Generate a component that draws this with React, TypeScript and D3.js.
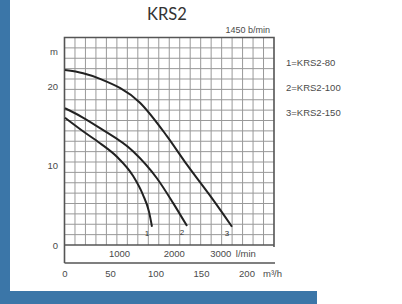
import React from 'react';
import * as d3 from 'd3';

// pump curves, Q in m3/h, H in m
const curve1 = [[0, 16.0], [19.8, 14.3], [38.5, 12.8], [57, 11.1], [74.7, 8.7], [85.7, 6.3], [92.3, 4.2], [95.6, 2.3]];
const curve2 = [[0, 17.2], [18.7, 16.1], [38.5, 14.7], [74.7, 11.8], [101, 8.4], [118.7, 5.3], [134, 2.4]];
const curve3 = [[0, 22.0], [20, 21.6], [38.5, 20.9], [82.4, 17.9], [112, 13.7], [134, 10.1], [162.6, 5.7], [183.5, 2.3]];
const curves = [curve1, curve2, curve3];
const curveIds = ['1', '2', '3'];

const legendLabels = ['1=KRS2-80', '2=KRS2-100', '3=KRS2-150'];
const yTicks = [0, 10, 20];
const qTicks = [0, 50, 100, 150, 200];
const lminTicks = [1000, 2000, 3000];

export default function App() {
    const W = 402, H = 304;
    const left = 64.5, right = 274, top = 37.5, zeroY = 245, bottom = 263;

    const x = d3.scaleLinear().domain([0, 200]).range([65, 247]);
    const y = d3.scaleLinear().domain([0, 20]).range([zeroY, 86]);
    // 1000 l/min = 60 m3/h
    const xl = d3.scaleLinear().domain([0, 1000]).range([x(0), x(60)]);

    const line = d3.line()
        .x((d) => x(d[0]))
        .y((d) => y(d[1]))
        .curve(d3.curveMonotoneX);

    const cols = d3.range(1, 20).map((i) => left + (i * (right - left)) / 20);
    const rows = d3.range(1, 20).map((i) => top + (i * (zeroY - top)) / 20);

    const small = { fontFamily: 'Liberation Sans, Arial, sans-serif', fontSize: 9.5, fill: '#4a4a4a' };

    return (
        <svg width={W} height={H} style={{ position: 'absolute', left: 0, top: 0, background: '#fff' }}>
            <rect x={0} y={0} width={10} height={H} fill="#3b76a8" />
            <rect x={0} y={291} width={317} height={13} fill="#3b76a8" />

            <text x={167} y={20} textAnchor="middle" fontFamily="Lato, sans-serif" fontSize={16.5} fill="#333">KRS2</text>
            <text x={270} y={33} textAnchor="end" {...small} fontSize={9}>1450 b/min</text>

            {/* grid */}
            {cols.map((c, i) => (
                <line key={'c' + i} x1={c} x2={c} y1={top} y2={zeroY} stroke="#999" strokeWidth={1} />
            ))}
            {rows.map((r, i) => (
                <line key={'r' + i} x1={left} x2={right} y1={r} y2={r} stroke="#999" strokeWidth={1} />
            ))}

            {/* frame */}
            <path d={`M${left},${bottom} V${top} H${right} V${zeroY + 2}`} fill="none" stroke="#555" strokeWidth={1.6} />
            <line x1={left} x2={right} y1={zeroY} y2={zeroY} stroke="#555" strokeWidth={1.6} />
            <line x1={left} x2={right + 1} y1={bottom} y2={bottom} stroke="#555" strokeWidth={1.6} />

            {/* y labels */}
            <text x={58} y={55} textAnchor="end" {...small}>m</text>
            {yTicks.map((t) => (
                <text key={t} x={58} y={y(t) + 3.5} textAnchor="end" {...small}>{t}</text>
            ))}

            {/* l/min labels */}
            {lminTicks.map((t) => (
                <text key={t} x={xl(t) - (t === 3000 ? 8 : 0)} y={257} textAnchor="middle" {...small}>{t}</text>
            ))}
            <text x={xl(3000) + 7} y={257} {...small}>l/min</text>

            {/* m3/h labels */}
            {qTicks.map((t) => (
                <text key={t} x={x(t)} y={277} textAnchor="middle" {...small}>{t}</text>
            ))}
            <text x={263} y={277} {...small}>m³/h</text>

            {/* curves */}
            {curves.map((c, i) => (
                <g key={i}>
                    <path d={line(c)} fill="none" stroke="#222" strokeWidth={2} />
                    <text x={x(c[c.length - 1][0]) - 5} y={y(c[c.length - 1][1]) + 9} textAnchor="middle" {...small} fontSize={8} fill="#333">{curveIds[i]}</text>
                </g>
            ))}

            {/* legend */}
            {legendLabels.map((l, i) => (
                <text key={l} x={286} y={66 + i * 25} {...small}>{l}</text>
            ))}
        </svg>
    );
}
